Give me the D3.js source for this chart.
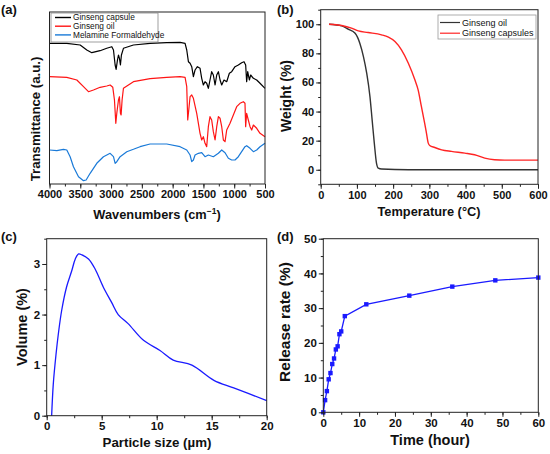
<!DOCTYPE html>
<html>
<head>
<meta charset="utf-8">
<script src="https://cdn.jsdelivr.net/npm/d3@7"></script>
<style>
  body { margin: 0; background: #fff; }
  text { font-family: "Liberation Sans", Arial, sans-serif; }
</style>
</head>
<body>
<svg width="550" height="454"></svg>
<script>
// (a) FTIR spectra, wavenumber (cm-1) vs transmittance (a.u., offset traces)
var capsuleWn = [4000,3719,3502,3394,3313,3178,3070,2988,2961,2934,2918,2896,2880,2864,2848,2832,2799,2637,2366,2096,
  1879,1798,1771,1744,1717,1690,1663,1636,1598,1555,1528,1501,1474,1447,1420,1393,1366,1339,1311,1284,
  1257,1230,1203,1166,1122,1079,1041,987,933,879,841,814,798,781,754,733,689,635,581,500];
var capsuleT = [140.7,140.7,139,134,131.3,133.3,135.7,137.3,134,119,114.7,124,129,125.7,119,129,135.7,139,140.7,141.3,
  141.7,140.7,134,122.3,120.7,117.3,107.3,114,117.3,115.7,105.7,99,102.3,100.7,95.7,104,112.3,109,99,109,
  112.3,104,99,104,102.3,110.7,112.3,117.3,119,121.3,122.3,119,102.3,112.3,104,109,105.7,104,100.7,95.7];

var oilWn = [4000,3719,3556,3448,3367,3286,3178,3070,3015,2972,2945,2923,2907,2880,2864,2848,2837,2821,2799,2637,
  2366,2096,1879,1798,1771,1755,1733,1717,1690,1663,1609,1555,1528,1501,1474,1447,1420,1393,1366,1339,
  1311,1284,1257,1230,1203,1176,1149,1122,1068,1014,960,906,852,825,814,798,771,743,716,689,635,581,500];
var oilT = [107.3,106.7,104,97.3,92.3,94,96.7,98,99,96.7,84,60.7,70.7,84,87.3,70.7,69,84,95.7,102.3,
  105.3,106.7,107.3,106.7,97.3,64,77.3,87.3,89,85.7,70.7,50.7,44,47.3,40.7,37.3,57.3,67.3,64,52.3,
  44,57.3,67.3,65.7,57.3,44,42.3,54,60.7,69,77.3,80.7,82.3,80.7,57.3,70.7,64,57.3,54,59,55.7,50.7,47.3];

var mfWn = [4000,3881,3773,3719,3665,3611,3529,3448,3405,3340,3232,3124,3015,2961,2934,2907,2853,2745,2637,2529,
  2366,2096,1879,1771,1717,1690,1663,1636,1582,1528,1474,1420,1339,1257,1203,1149,1095,1041,987,933,
  879,825,798,743,689,635,581,500];
var mfT = [34,33.3,34.7,34,27.3,17.3,7.3,3.3,4,10.7,20.7,27.3,30.7,27.3,20.7,22.3,27.3,32.3,34.7,37.3,
  40,40,37.3,34,29,22.3,24,29,30.7,31.3,27.3,29,27.3,30.7,34,31.3,25.7,24,24,27.3,
  32.3,37.3,38.3,35.7,32.3,34,37.3,40.7];

var ftirNames = ["Ginseng capsule", "Ginseng oil", "Melamine Formaldehyde"];
var waveTicks = [4000,3500,3000,2500,2000,1500,1000,500];

// (b) TGA
var oilTemp = [23,58,76,95,108,118,127,136,142,148,154,159,168,242,600];
var oilWeight = [100,98.9,96.6,93.8,87,77.8,66.4,50.3,34.3,18.3,4.6,1.1,0.5,0,0];
var capTemp = [23,58,85,104,131,168,187,205,223,242,260,269,278,287,292,297,301,315,334,361,398,425,453,480,508,600];
var capWeight = [100,99.1,97.3,95.4,94.3,92.7,91.1,88.1,82.4,73.2,61.8,54.9,43.5,32,25.2,18.3,16.7,15.3,13.7,12.6,11.4,10.3,8,6.9,6.6,6.6];
var tgaNames = ["Ginseng oil", "Ginseng capsules"];

// (c) particle size distribution
var sizeUm = [0.45,0.6,0.85,1.06,1.36,1.8,2.27,2.6,2.9,3.2,3.8,4.4,5.15,5.9,6.5,7.4,8.8,10.3,11.5,13.2,15.2,17,20];
var volumePct = [0,0.63,1.22,1.62,2.08,2.54,2.86,3.1,3.2,3.18,3.1,2.9,2.54,2.24,2,1.82,1.49,1.29,1.1,1.0,0.7,0.55,0.3];

// (d) release profile
var timeH = [0,0.5,1,1.5,2,2.5,3,3.5,4,4.5,5,6,12,24,36,48,60];
var releasePct = [0,3.5,6.1,9.5,11.3,13.9,15.5,18.1,19,22.5,23.3,27.7,31.1,33.6,36.2,38,38.8];

var svg = d3.select("svg");

function drawFrame(x, y) {
  svg.append("rect")
      .attr("x", x.range()[0])
      .attr("y", y.range()[1])
      .attr("width", x.range()[1] - x.range()[0])
      .attr("height", y.range()[0] - y.range()[1])
      .attr("fill", "none")
      .attr("stroke", "#222")
      .attr("stroke-width", 1);
}

function xAxis(x, y, major, minor, fs) {
  var g = svg.append("g").attr("transform", "translate(0," + y.range()[0] + ")");
  g.call(d3.axisBottom(x).tickValues(minor).tickSize(2.5).tickFormat(""));
  var m = svg.append("g").attr("transform", "translate(0," + y.range()[0] + ")");
  m.call(d3.axisBottom(x).tickValues(major).tickSize(4.5).tickPadding(2).tickFormat(d3.format("d")));
  [g, m].forEach(function(a) {
    a.select(".domain").remove();
    a.selectAll("line").attr("stroke", "#222");
    a.selectAll("text").attr("font-size", fs).attr("font-weight", "bold").attr("fill", "#111")
      .style("font-family", "'Liberation Sans', Arial, sans-serif");
  });
}

function yAxis(x, y, major, minor, fs, fmt) {
  var g = svg.append("g").attr("transform", "translate(" + x.range()[0] + ",0)");
  g.call(d3.axisLeft(y).tickValues(minor).tickSize(2.5).tickFormat(""));
  var m = svg.append("g").attr("transform", "translate(" + x.range()[0] + ",0)");
  m.call(d3.axisLeft(y).tickValues(major).tickSize(4.5).tickPadding(2).tickFormat(fmt || d3.format("d")));
  [g, m].forEach(function(a) {
    a.select(".domain").remove();
    a.selectAll("line").attr("stroke", "#222");
    a.selectAll("text").attr("font-size", fs).attr("font-weight", "bold").attr("fill", "#111")
      .style("font-family", "'Liberation Sans', Arial, sans-serif");
  });
}

function title(txt, x, y, fs, rot) {
  var t = svg.append("text")
      .attr("text-anchor", "middle")
      .attr("font-weight", "bold")
      .attr("font-size", fs)
      .attr("fill", "#111")
      .attr("transform", "translate(" + x + "," + y + ")" + (rot ? " rotate(-90)" : ""))
      .text(txt);
  return t;
}

function panelLabel(txt, x, y) {
  svg.append("text").attr("x", x).attr("y", y)
      .attr("font-size", 13).attr("font-weight", "bold").attr("fill", "#111")
      .text(txt);
}

function series(xs, ys) {
  return xs.map(function(d, i) { return [d, ys[i]]; });
}

// ---------- (a) ----------
var xa = d3.scaleLinear().domain([4000, 500]).range([49.5, 265]);
var ya = d3.scaleLinear().domain([0, 172]).range([184, 12]);
var lineA = d3.line().x(function(d) { return xa(d[0]); }).y(function(d) { return ya(d[1]); });
var ftir = [
  {name: ftirNames[0], data: series(capsuleWn, capsuleT), color: "#000000"},
  {name: ftirNames[1], data: series(oilWn, oilT), color: "#ff1414"},
  {name: ftirNames[2], data: series(mfWn, mfT), color: "#1a7ad8"}
];
ftir.forEach(function(s) {
  svg.append("path").datum(s.data).attr("d", lineA)
      .attr("fill", "none").attr("stroke", s.color).attr("stroke-width", 1.2)
      .attr("stroke-linejoin", "round");
});
drawFrame(xa, ya);
xAxis(xa, ya, waveTicks, d3.range(4000, 499, -250), 11);
var wt = title("Wavenumbers (cm", 157, 219, 12.8, false);
wt.append("tspan").attr("dy", -5).attr("font-size", 8.5).text("\u22121");
wt.append("tspan").attr("dy", 5).text(")");
title("Transmittance (a.u.)", 40, 119, 13.2, true);
panelLabel("(a)", 1, 14);

var legA = svg.append("g");
legA.append("rect").attr("x", 51).attr("y", 13).attr("width", 107).attr("height", 29)
    .attr("fill", "#fff").attr("stroke", "#888").attr("stroke-width", 0.8);
ftir.forEach(function(s, i) {
  var yy = 17.5 + i * 8.7;
  legA.append("line").attr("x1", 55).attr("x2", 71).attr("y1", yy).attr("y2", yy)
      .attr("stroke", s.color).attr("stroke-width", 1.4);
  legA.append("text").attr("x", 73).attr("y", yy + 2.9).attr("font-size", 8.3).attr("fill", "#111")
      .text(s.name);
});

// ---------- (b) ----------
var xb = d3.scaleLinear().domain([0, 600]).range([320.7, 538]);
var yb = d3.scaleLinear().domain([-10, 110]).range([184.3, 9.7]);
var lineB = d3.line().x(function(d) { return xb(d[0]); }).y(function(d) { return yb(d[1]); })
    .curve(d3.curveMonotoneX);
var tga = [
  {name: tgaNames[0], data: series(oilTemp, oilWeight), color: "#333333"},
  {name: tgaNames[1], data: series(capTemp, capWeight), color: "#ff2424"}
];
tga.forEach(function(s) {
  svg.append("path").datum(s.data).attr("d", lineB)
      .attr("fill", "none").attr("stroke", s.color).attr("stroke-width", 1.4);
});
drawFrame(xb, yb);
xAxis(xb, yb, d3.range(0, 601, 100), d3.range(0, 601, 50), 11);
yAxis(xb, yb, d3.range(0, 101, 20), d3.range(-10, 111, 10), 11);
title("Temperature (\u00b0C)", 429, 216, 12.8, false);
title("Weight (%)", 291, 96, 14, true);
panelLabel("(b)", 277, 14);

var legB = svg.append("g");
legB.append("rect").attr("x", 438).attr("y", 15).attr("width", 98).attr("height", 24)
    .attr("fill", "#fff").attr("stroke", "#999").attr("stroke-width", 0.8);
tga.forEach(function(s, i) {
  var yy = 22.5 + i * 10.7;
  legB.append("line").attr("x1", 440).attr("x2", 460).attr("y1", yy).attr("y2", yy)
      .attr("stroke", s.color).attr("stroke-width", 1.2);
  legB.append("text").attr("x", 462).attr("y", yy + 3.2).attr("font-size", 9).attr("fill", "#111")
      .text(s.name);
});

// ---------- (c) ----------
var xc = d3.scaleLinear().domain([0, 20]).range([46.7, 266.7]);
var yc = d3.scaleLinear().domain([0, 3.5]).range([415.7, 238.7]);
var lineC = d3.line().x(function(d) { return xc(d[0]); }).y(function(d) { return yc(d[1]); })
    .curve(d3.curveCatmullRom.alpha(0.5));
svg.append("path").datum(series(sizeUm, volumePct)).attr("d", lineC)
    .attr("fill", "none").attr("stroke", "#1a1aff").attr("stroke-width", 1.3);
drawFrame(xc, yc);
xAxis(xc, yc, d3.range(0, 21, 5), d3.range(0, 20.1, 2.5), 11.5);
yAxis(xc, yc, [0, 1, 2, 3], d3.range(0, 3.6, 0.5), 11.5);
title("Particle size (\u00b5m)", 157, 447, 13.3, false);
title("Volume (%)", 27, 327, 14.5, true);
panelLabel("(c)", 1, 241);

// ---------- (d) ----------
var xd = d3.scaleLinear().domain([0, 60]).range([323.3, 538.3]);
var yd = d3.scaleLinear().domain([0, 50]).range([412.3, 238.7]);
var rel = series(timeH, releasePct);
var lineD = d3.line().x(function(d) { return xd(d[0]); }).y(function(d) { return yd(d[1]); });
svg.append("path").datum(rel).attr("d", lineD)
    .attr("fill", "none").attr("stroke", "#1a1aff").attr("stroke-width", 1.3);
svg.append("g").selectAll("rect").data(rel).enter().append("rect")
    .attr("x", function(d) { return xd(d[0]) - 2.2; })
    .attr("y", function(d) { return yd(d[1]) - 2.2; })
    .attr("width", 4.4).attr("height", 4.4)
    .attr("fill", "#1a1aff");
drawFrame(xd, yd);
xAxis(xd, yd, d3.range(0, 61, 10), d3.range(0, 61, 5), 11.5);
yAxis(xd, yd, d3.range(0, 51, 10), d3.range(0, 51, 5), 11.5);
title("Time (hour)", 430, 445, 14.5, false);
title("Release rate (%)", 290, 322, 15.5, true);
panelLabel("(d)", 277, 241);
</script>
</body>
</html>
